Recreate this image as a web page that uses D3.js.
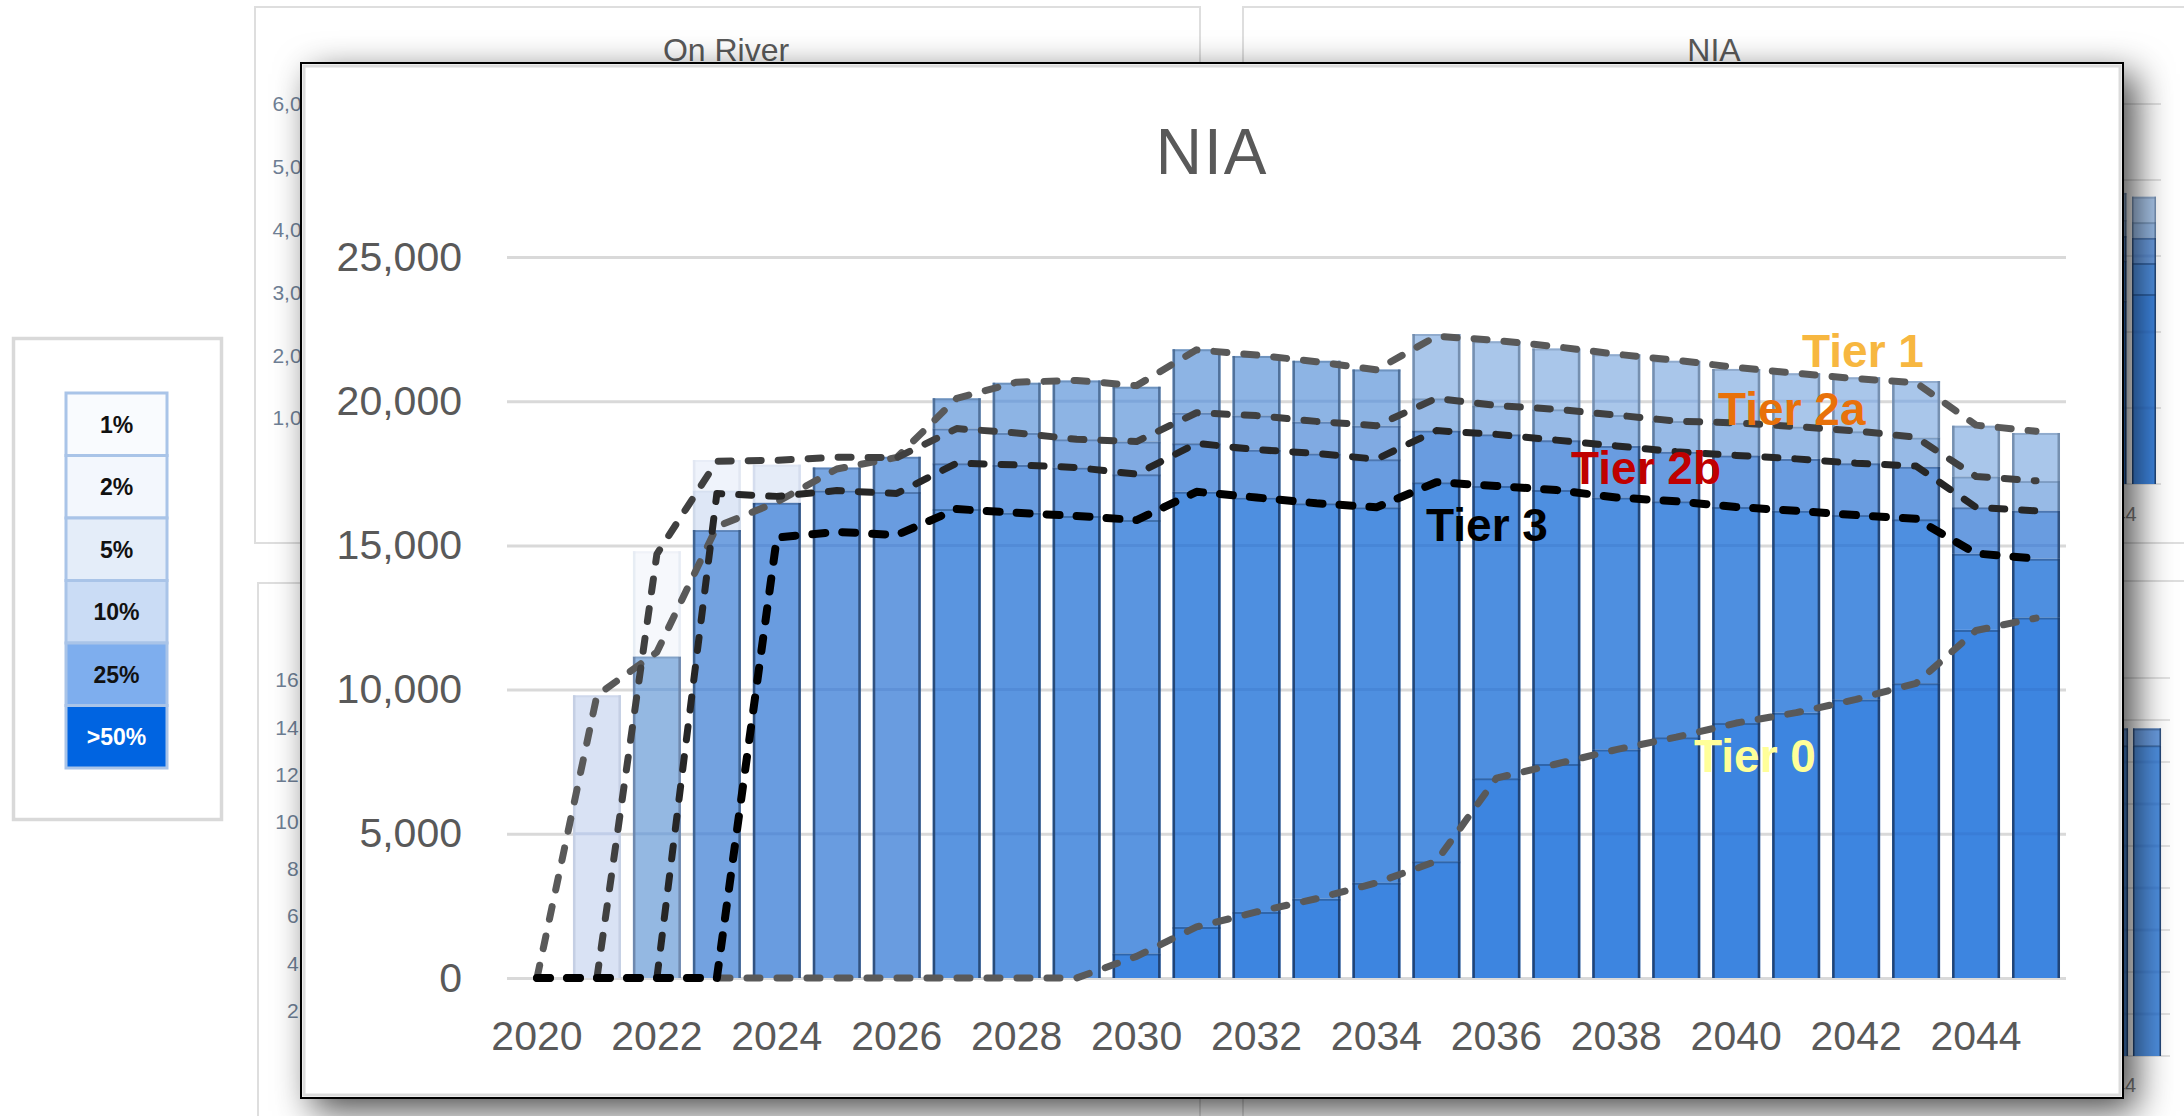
<!DOCTYPE html>
<html><head><meta charset="utf-8">
<script src="https://cdn.jsdelivr.net/npm/d3@7"></script>
<style>
html,body{margin:0;padding:0;background:#fff;}
svg{display:block;}
text{font-family:"Liberation Sans", Arial, sans-serif;}
</style></head><body>
<svg id="chart" width="2184" height="1116"></svg>
<script>
// ---------------- DATA ----------------
const years = d3.range(2020, 2046);
const yTicks = [0, 5000, 10000, 15000, 20000, 25000];
const xTickYears = [2020, 2022, 2024, 2026, 2028, 2030, 2032, 2034, 2036, 2038, 2040, 2042, 2044];

// dashed tier lines (one value per year 2020..2045)
const tier1  = [0, 9800, 11300, 15650, 16500, 17650, 18050, 20100, 20660, 20720, 20540, 21780, 21600, 21370, 21090, 22250, 22110, 21890, 21630, 21420, 21170, 20970, 20780, 20640, 19170, 18960];
const tier2a = [0, 0, 14700, 17920, 17950, 18060, 18040, 19050, 18900, 18680, 18600, 19600, 19500, 19300, 19150, 20100, 19850, 19720, 19520, 19310, 19250, 19120, 18970, 18750, 17390, 17240];
const tier2b = [0, 0, 0, 16800, 16700, 16900, 16800, 17850, 17790, 17700, 17470, 18540, 18320, 18190, 17990, 18980, 18850, 18650, 18450, 18250, 18120, 18000, 17850, 17750, 16320, 16200];
const tier3  = [0, 0, 0, 0, 15270, 15470, 15360, 16260, 16130, 16020, 15880, 16860, 16660, 16460, 16320, 17190, 17060, 16920, 16660, 16530, 16330, 16200, 16050, 15920, 14720, 14540];
const tier0  = [0, 0, 0, 0, 0, 0, 0, 0, 0, 0, 750, 1770, 2290, 2750, 3300, 4050, 6930, 7420, 7920, 8350, 8840, 9200, 9660, 10220, 12050, 12480];

// stacked bar segments per year: [cumulative top, shade]
const barSegments = [
  [],
  [[9800,'e1']],
  [[11150,'e2'],[14800,'e3']],
  [[15530,'e4'],[16900,'e5'],[17960,'e6']],
  [[16480,'d2'],[17800,'e7']],
  [[16900,'d2'],[17700,'m2']],
  [[16850,'d2'],[18070,'m2']],
  [[16260,'d1b'],[17850,'d2'],[19050,'d3b'],[20100,'d3a']],
  [[16130,'d1b'],[17790,'d2'],[18900,'d3b'],[20640,'d3a']],
  [[16020,'d1b'],[17700,'d2'],[18680,'d3b'],[20720,'d3a']],
  [[850,'d0'],[15880,'d1b'],[17470,'d2'],[18600,'d3b'],[20500,'d3a']],
  [[1770,'d0'],[16860,'d1'],[18540,'d2'],[19600,'d3b'],[21800,'d3a']],
  [[2290,'d0'],[16660,'d1'],[18320,'d2'],[19500,'d3b'],[21570,'d3a']],
  [[2750,'d0'],[16460,'d1'],[18190,'d2'],[19290,'d3b'],[21400,'d3a']],
  [[3300,'d0'],[16320,'d1'],[17990,'d2'],[19150,'d3b'],[21100,'d3a']],
  [[4050,'d0'],[17190,'d1'],[18980,'d2'],[20100,'d4'],[22330,'d5']],
  [[6930,'d0'],[17060,'d1'],[18850,'d2'],[19850,'d4'],[22080,'d5']],
  [[7420,'d0'],[16920,'d1'],[18650,'d2'],[19720,'d4'],[21830,'d5']],
  [[7920,'d0'],[16660,'d1'],[18450,'d2'],[19520,'d4'],[21630,'d5']],
  [[8350,'d0'],[16530,'d1'],[18250,'d2'],[19310,'d4'],[21400,'d5']],
  [[8840,'d0'],[16330,'d1'],[18120,'d2'],[19250,'d4'],[21120,'d5']],
  [[9200,'d0'],[16200,'d1'],[18000,'d2'],[19120,'d4'],[20970,'d5']],
  [[9660,'d0'],[16050,'d1'],[17850,'d2'],[18960,'d4'],[20830,'d5']],
  [[10220,'d0'],[15910,'d1'],[17730,'d2'],[18740,'d4'],[20700,'d5']],
  [[12070,'d0'],[14710,'d1'],[16320,'d2'],[17390,'d4'],[19150,'d5']],
  [[12500,'d0'],[14540,'d1'],[16200,'d2'],[17230,'d4'],[18900,'d5']]
];

// legend (probability classes)
const legendLabels = ['1%', '2%', '5%', '10%', '25%', '>50%'];
const legendColors = ['#f9fbfe', '#f3f7fd', '#e4edf9', '#cadcf5', '#7eaeee', '#0064e1'];

// background (partly hidden) charts
const onRiverTicks = [1000, 2000, 3000, 4000, 5000, 6000];
const lowerLeftTicks = [2000, 4000, 6000, 8000, 10000, 12000, 14000, 16000];
const lowerRightTicks = [0, 2000, 4000, 6000, 8000, 10000, 12000, 14000, 16000, 18000];
const lowerRightYears = [2044, 2045];
const lowerRightBase = [14800, 14800];
const lowerRightTop = [15600, 15600];
const bgVisibleYearLabels = [2044];

// ---------------- STYLE ----------------
const shades = {
  d0:{f:'#3d85e0',e:'#1d3d6b'}, d1:{f:'#4e8fe0',e:'#1f3f6d'}, d1b:{f:'#5a95e0',e:'#22446f'},
  d2:{f:'#699ce0',e:'#2b4a75'}, d3b:{f:'#80aae2',e:'#3a5a85'}, d3a:{f:'#8db4e4',e:'#4a6a92'},
  d4:{f:'#97bae6',e:'#5a7799'}, d5:{f:'#a9c6ea',e:'#7089aa'},
  e1:{f:'#d9e2f4',e:'#c2cde2'}, e2:{f:'#94b8e2',e:'#6a84a8'}, e3:{f:'#f6f8fc',e:'#e6ebf3'},
  e4:{f:'#73a2e0',e:'#3b5d8a'}, e5:{f:'#dee7f6',e:'#cdd7e8'}, e6:{f:'#eff3fb',e:'#e0e6f1'},
  e7:{f:'#e5ecf8',e:'#d3dcec'}, m2:{f:'#79a7e2',e:'#3e5f8b'}
};

const svg = d3.select('#chart');
const defs = svg.append('defs');
const flt = defs.append('filter').attr('id','shadow')
  .attr('x','-5%').attr('y','-8%').attr('width','112%').attr('height','120%');
flt.append('feDropShadow').attr('dx',12).attr('dy',12).attr('stdDeviation',18)
  .attr('flood-color','#000').attr('flood-opacity',0.7);

svg.append('rect').attr('width',2184).attr('height',1116).attr('fill','#fff');

// ---------- background panels ----------
const bg = svg.append('g');
const panels = [
  {x:255, y:7, w:945, h:536},
  {x:1243, y:7, w:980, h:536},
  {x:258, y:583, w:942, h:600},
  {x:1243, y:581, w:980, h:600}
];
bg.selectAll('rect.panel').data(panels).join('rect').attr('class','panel')
  .attr('x',d=>d.x).attr('y',d=>d.y).attr('width',d=>d.w).attr('height',d=>d.h)
  .attr('fill','#fff').attr('stroke','#dedede').attr('stroke-width',2);
bg.append('text').attr('x',726).attr('y',61).attr('text-anchor','middle')
  .attr('font-size',32).attr('fill','#595959').text('On River');
bg.append('text').attr('x',1714).attr('y',61).attr('text-anchor','middle')
  .attr('font-size',32).attr('fill','#595959').text('NIA');

const yOn = d3.scaleLinear().domain([0,6000]).range([481,103.6]);
bg.selectAll('text.on').data(onRiverTicks).join('text').attr('class','on')
  .attr('x',325).attr('y',d=>yOn(d)).attr('dy','0.35em').attr('text-anchor','end')
  .attr('font-size',21).attr('fill','#6f7f95').text(d3.format(','));
const yLL = d3.scaleLinear().domain([0,16000]).range([1057.8,680]);
bg.selectAll('text.ll').data(lowerLeftTicks).join('text').attr('class','ll')
  .attr('x',339.5).attr('y',d=>yLL(d)).attr('dy','0.35em').attr('text-anchor','end')
  .attr('font-size',21).attr('fill','#6f7f95').text(d3.format(','));

// generic bar drawing
function drawBars(g, xs, ys, segsArr, yrs, edgeW, gridTicks) {
  const bw = xs.bandwidth();
  yrs.forEach((yr, i) => {
    const segs = segsArr[i];
    if (!segs || !segs.length) return;
    const x0 = xs(yr);
    let base = 0;
    segs.forEach(([top, sh]) => {
      const s = shades[sh];
      g.append('rect').attr('x',x0).attr('y',ys(top)).attr('width',bw)
        .attr('height',Math.max(0, ys(base)-ys(top))).attr('fill',s.f);
      base = top;
    });
    const barTop = segs[segs.length-1][0];
    gridTicks.filter(t => t > 0 && t < barTop).forEach(t => {
      g.append('line').attr('x1',x0).attr('x2',x0+bw).attr('y1',ys(t)).attr('y2',ys(t))
        .attr('stroke','#1d4f9a').attr('stroke-opacity',0.13).attr('stroke-width',3);
    });
    base = 0;
    segs.forEach(([top, sh]) => {
      const s = shades[sh];
      g.append('path')
        .attr('d',`M${x0+edgeW/2},${ys(base)}V${ys(top)}M${x0+bw-edgeW/2},${ys(base)}V${ys(top)}`)
        .attr('stroke',s.e).attr('stroke-width',edgeW).attr('stroke-opacity',0.9).attr('fill','none');
      g.append('line').attr('x1',x0).attr('x2',x0+bw).attr('y1',ys(top)+1).attr('y2',ys(top)+1)
        .attr('stroke',s.e).attr('stroke-opacity',0.45).attr('stroke-width',2);
      base = top;
    });
  });
}

// top-right background NIA chart (same data, small scale)
const xTR = d3.scaleBand().domain(years).range([2144 - 25.5*29.6, 2144 + 0.5*29.6]).paddingInner(0.19).paddingOuter(0.095);
const yTR = d3.scaleLinear().domain([0,25000]).range([484,104]);
const gTR = bg.append('g');
gTR.selectAll('line').data(yTicks).join('line')
  .attr('x1',1400).attr('x2',2161).attr('y1',d=>yTR(d)).attr('y2',d=>yTR(d))
  .attr('stroke','#d9d9d9').attr('stroke-width',1.5);
drawBars(gTR, xTR, yTR, barSegments, years, 1.5, yTicks);
gTR.selectAll('text').data(bgVisibleYearLabels).join('text')
  .attr('x',d=>xTR(d)+xTR.bandwidth()/2).attr('y',514).attr('dy','0.35em').attr('text-anchor','middle')
  .attr('font-size',20).attr('fill','#7f7f7f').text(d=>d);

// bottom-right background chart
const xBR = d3.scaleBand().domain(years).range([2147 - 25.5*33, 2147 + 0.5*33]).paddingInner(0.15).paddingOuter(0.075);
const yBR = d3.scaleLinear().domain([0,18000]).range([1056,678]);
const gBR = bg.append('g');
gBR.selectAll('line').data(lowerRightTicks).join('line')
  .attr('x1',1400).attr('x2',2170).attr('y1',d=>yBR(d)).attr('y2',d=>yBR(d))
  .attr('stroke','#d9d9d9').attr('stroke-width',1.5);
drawBars(gBR, xBR, yBR, lowerRightYears.map((yr,i)=>[[lowerRightBase[i],'d1'],[lowerRightTop[i],'d2']]), lowerRightYears, 1.5, lowerRightTicks);
gBR.selectAll('text').data(bgVisibleYearLabels).join('text')
  .attr('x',d=>xBR(d)+xBR.bandwidth()/2).attr('y',1085).attr('dy','0.35em').attr('text-anchor','middle')
  .attr('font-size',20).attr('fill','#7f7f7f').text(d=>d);

// ---------- legend box ----------
const lg = svg.append('g');
lg.append('rect').attr('x',13.5).attr('y',338.5).attr('width',208).attr('height',481)
  .attr('fill','#fff').attr('stroke','#d9d9d9').attr('stroke-width',3.5);
const cellH = 62.5;
lg.selectAll('rect.cell').data(legendLabels).join('rect').attr('class','cell')
  .attr('x',66).attr('y',(d,i)=>393+i*cellH).attr('width',101).attr('height',cellH)
  .attr('fill',(d,i)=>legendColors[i]).attr('stroke','#a9c4e8').attr('stroke-width',3);
lg.selectAll('text').data(legendLabels).join('text')
  .attr('x',116.5).attr('y',(d,i)=>393+i*cellH+cellH/2).attr('dy','0.36em').attr('text-anchor','middle')
  .attr('font-family','"DejaVu Sans", sans-serif').attr('font-weight','bold').attr('font-size',23)
  .attr('fill',(d,i)=>i===5?'#ffffff':'#111111').text(d=>d);

// ---------- main panel ----------
const main = svg.append('g');
main.append('rect').attr('x',301).attr('y',63).attr('width',1822).attr('height',1035)
  .attr('fill','#fff').attr('stroke','#000').attr('stroke-width',2).attr('filter','url(#shadow)');
main.append('rect').attr('x',304).attr('y',66).attr('width',1816).attr('height',1029)
  .attr('fill','none').attr('stroke','#dcdcdc').attr('stroke-width',3);

main.append('text').attr('x',1212).attr('y',174).attr('text-anchor','middle')
  .attr('font-size',64).attr('fill','#595959').attr('letter-spacing',2).text('NIA');

const x = d3.scaleBand().domain(years).range([507, 2066]).paddingInner(0.2).paddingOuter(0.1);
const y = d3.scaleLinear().domain([0, 25000]).range([978, 257]);

// gridlines
const grid = main.append('g').attr('transform','translate(507,0)')
  .call(d3.axisLeft(y).tickValues(yTicks).tickSize(-1559).tickFormat(''));
grid.select('.domain').remove();
grid.selectAll('line').attr('stroke','#d9d9d9').attr('stroke-width',3);

// y axis labels
const yAx = main.append('g').attr('transform','translate(507,0)')
  .call(d3.axisLeft(y).tickValues(yTicks).tickSize(0).tickPadding(45).tickFormat(d3.format(',')));
yAx.select('.domain').remove();
yAx.selectAll('text').attr('font-size',41).attr('fill','#595959').attr('font-family','"Liberation Sans", Arial, sans-serif');

// x axis labels
const xAx = main.append('g').attr('transform','translate(0,978)')
  .call(d3.axisBottom(x).tickValues(xTickYears).tickSize(0).tickPadding(43));
xAx.select('.domain').remove();
xAx.selectAll('text').attr('font-size',41).attr('fill','#595959').attr('font-family','"Liberation Sans", Arial, sans-serif');

// bars
const gBars = main.append('g');
drawBars(gBars, x, y, barSegments, years, 2.5, yTicks);

// dashed tier lines
const lineSeries = [
  {values: tier0,  color:'#595959', width:7},
  {values: tier1,  color:'#595959', width:7},
  {values: tier2a, color:'#404040', width:7},
  {values: tier2b, color:'#262626', width:7},
  {values: tier3,  color:'#000000', width:8}
];
const line = d3.line().x((d,i)=>x(years[i]) + x.bandwidth()/2).y(d=>y(d)).curve(d3.curveLinear);
main.append('g').selectAll('path').data(lineSeries).join('path')
  .attr('d',d=>line(d.values)).attr('fill','none')
  .attr('stroke',d=>d.color).attr('stroke-width',d=>d.width)
  .attr('stroke-dasharray','13 17').attr('stroke-linecap','round').attr('stroke-linejoin','round');

// tier labels
const tierLabels = [
  {t:'Tier 1',  x:1802, y:367, c:'#f7b740'},
  {t:'Tier 2a', x:1718, y:425, c:'#e8710a'},
  {t:'Tier 2b', x:1571, y:484, c:'#c00000'},
  {t:'Tier 3',  x:1426, y:541, c:'#000000'},
  {t:'Tier 0',  x:1694, y:772, c:'#ffff99'}
];
main.append('g').selectAll('text').data(tierLabels).join('text')
  .attr('x',d=>d.x).attr('y',d=>d.y).attr('fill',d=>d.c)
  .attr('font-size',46).attr('font-weight','bold').text(d=>d.t);
</script>
</body></html>
